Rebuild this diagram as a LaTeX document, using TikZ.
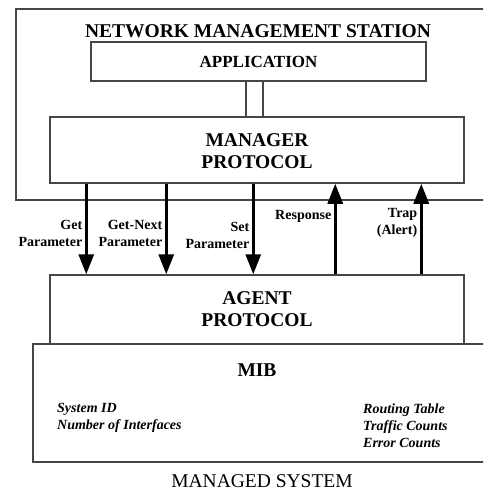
\documentclass[tikz,border=0pt]{standalone}
\usepackage{fontspec}
\setmainfont{Liberation Serif}
\usepackage{tikz}
\usetikzlibrary{arrows.meta,positioning}
\definecolor{figline}{RGB}{70,70,70}
\tikzset{
  layerbox/.style={draw=figline, line width=1.5pt, fill=white, inner sep=0pt},
  boxtitle/.style={font=\fontsize{19.5}{22}\selectfont\bfseries, align=center, inner sep=0pt},
  apptitle/.style={font=\fontsize{17}{20}\selectfont\bfseries, inner sep=0pt},
  msglabel/.style={font=\fontsize{14}{17}\selectfont\bfseries, align=right, inner xsep=2.5pt, inner ysep=0pt},
  miblist/.style={font=\fontsize{14}{17}\selectfont\bfseries\itshape, align=left, inner sep=0pt},
  link/.style={draw=figline, line width=1.2pt},
  msgarrow/.style={-{Triangle[length=20pt,width=15pt]}, draw=black, line width=3pt}
}
\begin{document}
\begin{tikzpicture}[x=1pt,y=-1pt]
  \useasboundingbox (0,0) rectangle (483,493);
  \clip (0,0) rectangle (483,493);

  \node[layerbox, minimum width=474pt, minimum height=191pt] (nms) at (253,104.5) {};
  \node[boxtitle] (nmsTitle) at (258,31) {NETWORK MANAGEMENT STATION};
  \node[layerbox, minimum width=335pt, minimum height=39pt] (app) at (258.5,61.5) {};
  \node[apptitle] (appTitle) at (app.center) {APPLICATION};
  \node[layerbox, minimum width=414pt, minimum height=66pt] (mgr) at (257,150) {};
  \node[boxtitle] (mgrTitle) at (257,151) {MANAGER\\PROTOCOL};

  \node[layerbox, minimum width=457pt, minimum height=118pt] (mib) at (261.5,403) {};
  \node[layerbox, minimum width=414pt, minimum height=69pt] (agent) at (257,309.5) {};
  \node[boxtitle] (agentTitle) at (agent.center) {AGENT\\PROTOCOL};
  \node[boxtitle] (mibTitle) at (257,370) {MIB};
  \node[miblist, anchor=west] (mibLeft) at (57,417.5) {System ID\\Number of Interfaces};
  \node[miblist, anchor=west] (mibRight) at (363,426) {Routing Table\\Traffic Counts\\Error Counts};
  \node[boxtitle, font=\fontsize{19.5}{22}\selectfont] (managed) at (262,481.5) {MANAGED SYSTEM};

  \draw[link] ([xshift=-12.5pt]app.south) -- ([xshift=-12.5pt]app.south |- mgr.north);
  \draw[link] ([xshift=4.5pt]app.south) -- ([xshift=4.5pt]app.south |- mgr.north);

  \draw[msgarrow] ([xshift=37pt]mgr.south west) -- ([xshift=37pt]agent.north west)
    node[msglabel, pos=0.55, left] {Get\\Parameter};
  \draw[msgarrow] ([xshift=117pt]mgr.south west) -- ([xshift=117pt]agent.north west)
    node[msglabel, pos=0.55, left] {Get-Next\\Parameter};
  \draw[msgarrow] ([xshift=204pt]mgr.south west) -- ([xshift=204pt]agent.north west)
    node[msglabel, pos=0.57, left] {Set\\Parameter};
  \draw[msgarrow] ([xshift=286pt]agent.north west) -- ([xshift=286pt]mgr.south west)
    node[msglabel, pos=0.64, left] {Response};
  \draw[msgarrow] ([xshift=372pt]agent.north west) -- ([xshift=372pt]mgr.south west)
    node[msglabel, pos=0.57, left] {Trap\\(Alert)};
\end{tikzpicture}
\end{document}
